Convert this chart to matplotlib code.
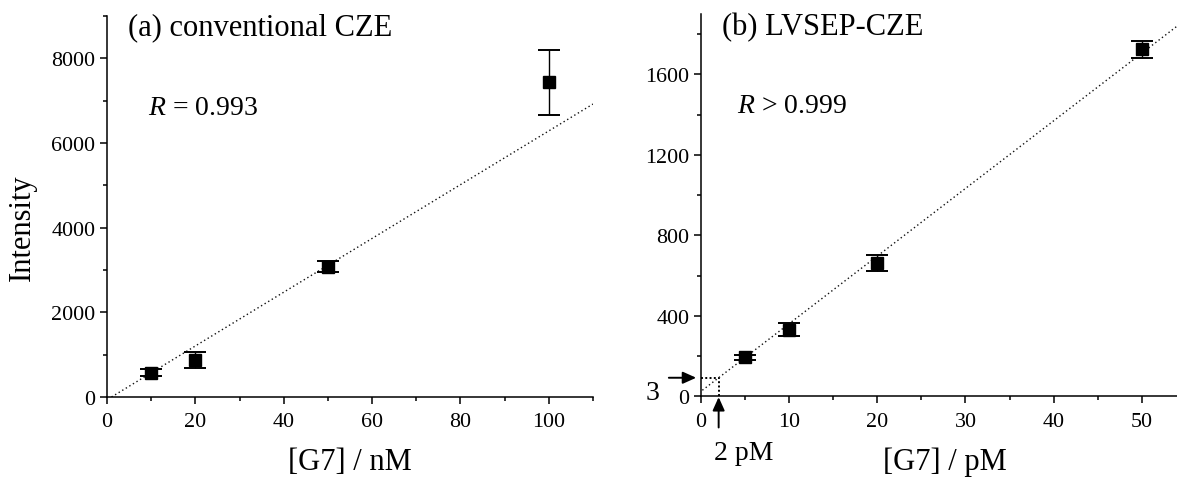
import matplotlib
matplotlib.use("Agg")
import matplotlib.pyplot as plt
import numpy as np
from matplotlib.ticker import MultipleLocator

plt.rcParams['font.family'] = ['Liberation Serif', 'DejaVu Serif']
plt.rcParams['mathtext.fontset'] = 'custom'
plt.rcParams['mathtext.rm'] = 'Liberation Serif'
plt.rcParams['mathtext.it'] = 'Liberation Serif:italic'

# (a) conventional CZE, [G7] in nM
conc_a = [10, 20, 50, 100]
intensity_a = [575, 880, 3080, 7430]
err_a = [85, 190, 128, 770]
fit_a = (63.5, -65.0)          # slope, intercept
r_text_a = r'$R$ = 0.993'

# (b) LVSEP-CZE, [G7] in pM
conc_b = [5, 10, 20, 50]
intensity_b = [194, 331, 662, 1725]
err_b = [12, 33, 40, 42]
fit_b = (33.6, 25.0)
r_text_b = r'$R$ > 0.999'
lod_conc = 2.0                 # detection limit, pM

fig = plt.figure(figsize=(11.77, 4.81), dpi=100)
ax_a = fig.add_axes([0.0909, 0.1726, 0.4129, 0.7921])
ax_b = fig.add_axes([0.5956, 0.1740, 0.4044, 0.7948])

tick_fs = 15.8
label_fs = 22


def style_axes(ax, xmaj, xmin, ymaj, ymin):
    for side in ('top', 'right'):
        ax.spines[side].set_visible(False)
    for side in ('left', 'bottom'):
        ax.spines[side].set_linewidth(1.1)
    ax.xaxis.set_major_locator(MultipleLocator(xmaj))
    ax.xaxis.set_minor_locator(MultipleLocator(xmin))
    ax.yaxis.set_major_locator(MultipleLocator(ymaj))
    ax.yaxis.set_minor_locator(MultipleLocator(ymin))
    ax.tick_params(which='major', direction='out', length=5, width=1.1,
                   labelsize=tick_fs, pad=3.5)
    ax.tick_params(axis='x', which='major', pad=6)
    ax.tick_params(which='minor', direction='out', length=2.6, width=1.1)


def draw_points(ax, x, y, e):
    ax.errorbar(x, y, yerr=e, fmt='s', color='black', ms=8.6,
                ecolor='black', elinewidth=1.0, capsize=7.8, capthick=1.4,
                zorder=3)


# panel (a)
xa = np.linspace(-fit_a[1] / fit_a[0], 110, 200)
ax_a.plot(xa, fit_a[0] * xa + fit_a[1], linestyle=(0, (1, 2)),
          color='#111111', linewidth=1.0, zorder=2)
draw_points(ax_a, conc_a, intensity_a, err_a)
ax_a.set_xlim(0, 110)
ax_a.set_ylim(0, 9000)
style_axes(ax_a, 20, 10, 2000, 1000)
ax_a.text(0.043, 0.971, '(a) conventional CZE', transform=ax_a.transAxes,
          fontsize=label_fs, ha='left', va='center')
ax_a.text(0.084, 0.743, r_text_a, transform=ax_a.transAxes,
          fontsize=20, ha='left', va='baseline')

# panel (b)
xb = np.linspace(0.15, 54, 200)
ax_b.plot(xb, fit_b[0] * xb + fit_b[1], linestyle=(0, (1, 2)),
          color='#111111', linewidth=1.0, zorder=2)
draw_points(ax_b, conc_b, intensity_b, err_b)
ax_b.set_xlim(0, 54)
ax_b.set_ylim(0, 1900)
style_axes(ax_b, 10, 5, 400, 200)

lod_level = fit_b[0] * lod_conc + fit_b[1]
ax_b.plot([0, lod_conc], [lod_level, lod_level], linestyle=(0, (1, 1.2)),
          color='black', linewidth=1.4, zorder=2)
ax_b.plot([lod_conc, lod_conc], [0, lod_level], linestyle=(0, (1, 1.2)),
          color='black', linewidth=1.4, zorder=2)
arrow = dict(arrowstyle='-|>,head_length=0.8,head_width=0.36', color='black',
             lw=1.4, shrinkA=0, shrinkB=0)
ax_b.annotate('', xy=(-0.55, lod_level), xytext=(-3.65, lod_level),
              arrowprops=arrow, annotation_clip=False)
ax_b.annotate('', xy=(lod_conc, -4), xytext=(lod_conc, -155),
              arrowprops=arrow, annotation_clip=False)
ax_b.text(-5.5, 20, '3', fontsize=20, ha='center', va='center', clip_on=False)
ax_b.text(lod_conc + 2.8, -280, '2 pM', fontsize=20, ha='center',
          va='center', clip_on=False)

ax_b.text(0.0435, 0.966, '(b) LVSEP-CZE', transform=ax_b.transAxes,
          fontsize=label_fs, ha='left', va='center')
ax_b.text(0.075, 0.744, r_text_b, transform=ax_b.transAxes,
          fontsize=20, ha='left', va='baseline')

# axis titles
fig.text(350 / 1177, 1 - 462 / 481, '[G7] / nM', fontsize=label_fs,
         ha='center', va='center')
fig.text(945 / 1177, 1 - 462 / 481, '[G7] / pM', fontsize=label_fs,
         ha='center', va='center')
fig.text(22 / 1177, 1 - 228 / 481, 'Intensity', fontsize=label_fs,
         ha='center', va='center', rotation=90)

fig.savefig('out.png', dpi=100)
